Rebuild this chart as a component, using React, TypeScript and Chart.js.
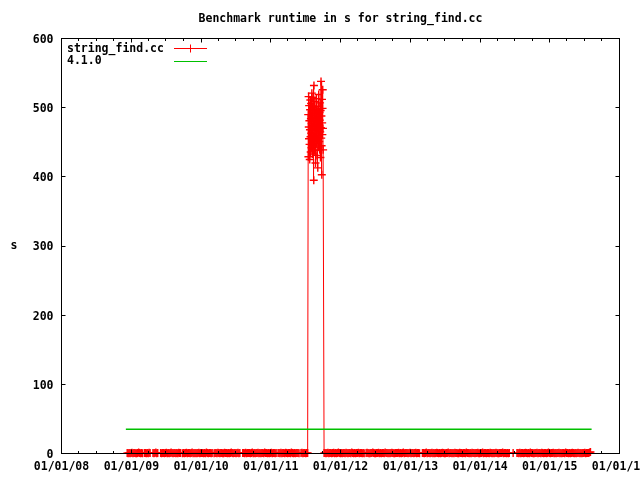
import React, { useEffect, useRef } from "react";
import { Chart, registerables } from "chart.js";

Chart.register(...registerables);

// ---------------- data ----------------
const TITLE = "Benchmark runtime in s for string_find.cc";
const Y_LABEL = "s";
const SERIES_NAMES = ["string_find.cc", "4.1.0"];

const X_MIN_DATE = "2008-01-01";
const X_MAX_DATE = "2016-01-01";
const X_TICK_YEARS = [2008, 2009, 2010, 2011, 2012, 2013, 2014, 2015, 2016];
const Y_MIN = 0;
const Y_MAX = 600;
const Y_STEP = 100;

// benchmark runs, first period (every 5 days, null = missed run)
const RUNS_A_START = "2008-12-10";
const RUNS_A_STEP_DAYS = 5;
const RUNS_A = [
  0.6, 0.5, 0.8, 0.4, 0.7, 1.2, 0.5, 0.6, 0.9, 0.4,
  0.5, 0.7, 1.4, 0.6, 0.5, 0.8, 0.4, null, 0.6, 0.9,
  0.5, 0.7, 0.4, 1.1, 0.6, null, null, 0.8, 0.5, 0.6,
  1.3, 0.4, 0.7, null, null, 0.6, 0.5, 0.9, 0.7, 0.4,
  0.6, 1.0, 0.5, 0.8, 0.4, 0.6, 1.5, 0.7, 0.5, 0.6,
  0.9, 0.4, 0.7, 0.5, 1.2, 0.6, 0.8, null, 0.5, 0.7,
  0.4, 0.6, 1.0, 0.5, 0.7, 0.9, 0.4, 0.6, 1.3, 0.5,
  0.7, 0.5, 0.8, 0.4, 0.6, 1.1, 0.5, 0.7, 0.6, 0.9,
  0.4, 0.6, 0.5, 1.4, 0.7, 0.5, 0.8, 0.6, 0.4, 0.7,
  null, 0.5, 0.9, 0.6, 0.4, 1.2, 0.7, 0.5, 0.6, 0.8,
  0.5, 0.4, 1.0, 0.7, 0.6, 0.5, 0.9, 0.4, 0.6, 1.3,
  0.7, 0.5, 0.6, 0.8, 0.4, 0.7, 1.1, 0.5, 0.6, null,
  null, 0.6, 0.8, 0.5, 1.2, 0.4, 0.7, 0.6, 0.9, 0.5,
  0.6, 1.4, 0.4, 0.7, 0.5, 0.8, 0.6, 1.0, 0.5, 0.7,
  0.4, 0.6, 0.9, 0.5, 1.3, 0.7, 0.6, 0.4, 0.8, 0.5,
  0.7, 1.1, 0.5, 0.6, 0.9, 0.4, 0.7, null, 0.6, 0.8,
  0.5, 1.2, 0.4, 0.7, 0.6, 0.5, 1.0, 0.8, 0.4, 0.6,
  0.7, 0.5, 1.5, 0.6, 0.4, 0.8, 0.5, 0.7, 0.9, 0.6,
  0.5, null, 0.7, 1.1, 0.4, 0.6, 0.8, 0.5, 0.6, 0.7,
];

// slow period (daily runs)
const SPIKE_START = "2011-07-16";
const SPIKE_STEP_DAYS = 1;
const SPIKE = [
  490, 429, 516, 472, 455, 503, 481, 447, 425, 468,
  497, 511, 458, 436, 484, 506, 463, 442, 477, 521,
  452, 489, 470, 433, 500, 515, 459, 481, 446, 395,
  532, 474, 453, 492, 438, 509, 467, 484, 420, 457,
  498, 473, 448, 513, 486, 462, 431, 495, 479, 454,
  413, 468, 502, 487, 443, 519, 460, 476, 451, 493,
  439, 482, 507, 465, 428, 496, 471, 538, 456, 488,
  445, 403, 512, 478, 461, 499, 526, 470, 439,
];

// benchmark runs, second period (every 5 days, null = missed run)
const RUNS_B_START = "2011-10-07";
const RUNS_B_STEP_DAYS = 5;
const RUNS_B = [
  0.6, 0.8, 0.5, 0.7, 1.2, 0.4, 0.6, 0.9, 0.5, 0.7,
  1.0, 0.5, 0.6, 0.4, 0.8, 1.3, 0.6, 0.5, 0.7, 0.4,
  0.6, 0.9, 0.5, 1.1, 0.7, 0.4, 0.6, 0.8, 0.5, 1.4,
  0.7, 0.5, 0.6, 0.4, 0.9, 0.6, 1.2, 0.5, 0.7, 0.6,
  0.4, 0.8, 0.5, null, 0.7, 1.0, 0.6, 0.4, 0.5, 0.9,
  0.6, 1.3, 0.7, 0.5, 0.4, 0.8, 0.6, 1.1, 0.5, 0.7,
  0.4, 0.6, 0.9, 0.5, 1.5, 0.7, 0.6, 0.4, 0.8, 0.5,
  0.7, 1.2, 0.6, 0.5, 0.4, 0.9, 0.7, 0.6, 1.0, 0.5,
  0.8, 0.4, 0.6, 1.3, 0.5, 0.7, 0.6, 0.9, 0.4, 0.6,
  1.1, 0.5, 0.7, 0.6, 0.4, 0.8, 1.2, 0.5, 0.6, 0.7,
  0.5, null, null, 0.6, 0.9, 0.4, 0.7, 1.4, 0.5, 0.6,
  0.8, 0.5, 0.7, 1.0, 0.4, 0.6, 0.5, 0.9, 1.2, 0.6,
  0.4, 0.7, 0.5, 0.6, 1.1, 0.8, 0.5, 0.4, 0.7, 0.6,
  1.3, 0.5, 0.6, 0.9, 0.4, 0.7, 0.5, 1.0, 0.6, 0.8,
  0.5, 0.4, 1.2, 0.6, 0.7, 0.5, 0.9, 0.6, 0.4, 1.5,
  0.7, 0.6, 0.5, 0.8, 0.4, 1.1, 0.6, 0.7, 0.5, 0.9,
  0.6, 1.0, 0.4, 0.5, 0.7, 0.6, 1.3, 0.5, 0.8, 0.6,
  0.4, 0.7, 0.9, 0.5, 1.2, 0.6, 0.4, 0.7, 0.5, 0.8,
  1.1, 0.6, 0.5, 0.4, 0.7, 0.9, 0.6, 1.4, 0.5, 0.6,
  0.7, 0.5, 0.8, 0.4, 0.6, null, null, null, 0.7, null,
  null, null, 0.6, 0.9, 0.5, 1.2, 0.4, 0.7, 0.6, 0.5,
  0.8, 1.0, 0.6, 0.4, 0.7, 0.5, 1.3, 0.6, 0.9, 0.5,
  0.4, 0.7, 0.6, 1.1, 0.5, 0.8, 0.6, 0.4, 1.2, 0.7,
  0.5, 0.6, 0.9, 0.4, 0.7, 1.5, 0.6, 0.5, 0.8, 0.6,
  1.0, 0.4, 0.7, 0.5, 0.6, 0.9, 1.2, 0.5, 0.7, 0.4,
  0.6, 0.8, 0.5, 1.3, 0.6, 0.7, 0.4, 0.9, 0.5, 0.6,
  1.1, 0.7, 0.5, 0.6, 0.4, 0.8, 1.0, 0.6, 0.5, 0.7,
  0.4, 0.9, 0.6, 1.2, 0.5, 0.7, 0.6, 0.8, 1.4, 2.1,
];

// reference release 4.1.0
const BASELINE_DATES = ["2008-12-03", "2015-08-08"];
const BASELINE_VALUES = [35, 35];

// ---------------- styling ----------------
const FONT_FAMILY = "'DejaVu Sans Mono', 'Liberation Mono', monospace";
const FONT_SIZE = 11.5;
const RED = "#ff0000";
const GREEN = "#00c000";
const DAY_MS = 86400000;

function runsToPoints(start: string, stepDays: number, values: (number | null)[]) {
  const t0 = Date.parse(start);
  return values.map((v, i) => ({ x: t0 + i * stepDays * DAY_MS, y: v }));
}

function fmtTick(v: number) {
  const d = new Date(v);
  const yy = String(d.getUTCFullYear() % 100).padStart(2, "0");
  const mm = String(d.getUTCMonth() + 1).padStart(2, "0");
  const dd = String(d.getUTCDate()).padStart(2, "0");
  return `${mm}/${dd}/${yy}`;
}

const gnuplotDecor = {
  id: "gnuplotDecor",
  afterDatasetsDraw(chart: any) {
    const { ctx, chartArea: a, scales } = chart;
    const xs = scales.x;
    const ys = scales.y;
    const L = Math.floor(a.left) + 0.5;
    const R = Math.floor(a.right) + 0.5;
    const T = Math.floor(a.top) + 0.5;
    const B = Math.floor(a.bottom) + 0.5;
    ctx.save();
    ctx.strokeStyle = "#000";
    ctx.lineWidth = 1;
    ctx.beginPath();
    for (let v = Y_MIN; v <= Y_MAX; v += Y_STEP) {
      const py = Math.floor(ys.getPixelForValue(v)) + 0.5;
      ctx.moveTo(L, py);
      ctx.lineTo(L + 4, py);
      ctx.moveTo(R, py);
      ctx.lineTo(R - 4, py);
    }
    for (let yr = X_TICK_YEARS[0]; yr <= X_TICK_YEARS[X_TICK_YEARS.length - 1]; yr++) {
      for (let q = 0; q < 4; q++) {
        const t = Date.UTC(yr, q * 3, 1);
        if (t > Date.parse(X_MAX_DATE)) break;
        const px = Math.floor(xs.getPixelForValue(t)) + 0.5;
        const len = q === 0 ? 4 : 2.5;
        ctx.moveTo(px, B);
        ctx.lineTo(px, B - len);
        ctx.moveTo(px, T);
        ctx.lineTo(px, T + len);
      }
    }
    ctx.stroke();
    ctx.strokeRect(L, T, R - L, B - T);
    ctx.restore();
  },
  afterDraw(chart: any) {
    const { ctx } = chart;
    ctx.save();
    ctx.font = `bold ${FONT_SIZE}px ${FONT_FAMILY}`;
    ctx.fillStyle = "#000";
    ctx.textBaseline = "middle";
    ctx.textAlign = "center";
    ctx.fillText(Y_LABEL, 14, 246);
    ctx.textAlign = "left";
    ctx.fillText(SERIES_NAMES[0], 67, 49);
    ctx.fillText(SERIES_NAMES[1], 67, 61.5);
    ctx.lineWidth = 1;
    ctx.strokeStyle = RED;
    ctx.beginPath();
    ctx.moveTo(174, 48.5);
    ctx.lineTo(207, 48.5);
    ctx.moveTo(190.5, 44.5);
    ctx.lineTo(190.5, 52.5);
    ctx.stroke();
    ctx.strokeStyle = GREEN;
    ctx.beginPath();
    ctx.moveTo(174, 61.5);
    ctx.lineTo(207, 61.5);
    ctx.stroke();
    ctx.restore();
  },
};

export default function App() {
  const ref = useRef<HTMLCanvasElement | null>(null);

  useEffect(() => {
    if (!ref.current) return;
    const redPoints = [
      ...runsToPoints(RUNS_A_START, RUNS_A_STEP_DAYS, RUNS_A),
      ...runsToPoints(SPIKE_START, SPIKE_STEP_DAYS, SPIKE),
      ...runsToPoints(RUNS_B_START, RUNS_B_STEP_DAYS, RUNS_B),
    ];
    const greenPoints = BASELINE_DATES.map((d, i) => ({ x: Date.parse(d), y: BASELINE_VALUES[i] }));
    const tickFont = { family: FONT_FAMILY, size: FONT_SIZE, weight: "bold" as const };

    const chart = new Chart(ref.current, {
      type: "line",
      data: {
        datasets: [
          {
            label: SERIES_NAMES[0],
            data: redPoints as any,
            borderColor: RED,
            borderWidth: 1,
            pointStyle: "cross",
            pointRadius: 4,
            pointHoverRadius: 4,
            pointBorderColor: RED,
            pointBorderWidth: 1.4,
            spanGaps: true,
            clip: false as any,
            tension: 0,
            order: 1,
          },
          {
            label: SERIES_NAMES[1],
            data: greenPoints as any,
            borderColor: GREEN,
            borderWidth: 1.5,
            pointRadius: 0,
            pointHoverRadius: 0,
            tension: 0,
            order: 0,
          },
        ],
      },
      options: {
        animation: false,
        responsive: false,
        devicePixelRatio: 1,
        events: [],
        layout: { padding: { left: 0, right: 20.5, top: 0, bottom: 0 } },
        plugins: {
          legend: { display: false },
          tooltip: { enabled: false },
          title: {
            display: true,
            text: TITLE,
            fullSize: false,
            color: "#000",
            font: { family: FONT_FAMILY, size: FONT_SIZE, weight: "bold", lineHeight: 1.2 },
            padding: { top: 12, bottom: 12.7 },
          },
        },
        scales: {
          x: {
            type: "linear",
            min: Date.parse(X_MIN_DATE),
            max: Date.parse(X_MAX_DATE),
            grid: { display: false, drawTicks: false },
            border: { display: false },
            afterBuildTicks: (scale: any) => {
              scale.ticks = X_TICK_YEARS.map((y) => ({ value: Date.UTC(y, 0, 1) }));
            },
            afterFit: (scale: any) => {
              scale.height = 26.5;
              scale.paddingLeft = 0;
              scale.paddingRight = 0;
            },
            ticks: {
              autoSkip: false,
              maxRotation: 0,
              minRotation: 0,
              padding: 7,
              color: "#000",
              font: tickFont,
              callback: (v: any) => fmtTick(Number(v)),
            },
          },
          y: {
            type: "linear",
            min: Y_MIN,
            max: Y_MAX,
            grid: { display: false, drawTicks: false },
            border: { display: false },
            afterFit: (scale: any) => {
              scale.width = 61.5;
            },
            ticks: {
              stepSize: Y_STEP,
              padding: 8,
              labelOffset: 1.5,
              color: "#000",
              font: tickFont,
            },
          },
        },
      },
      plugins: [gnuplotDecor],
    });
    return () => chart.destroy();
  }, []);

  return (
    <div style={{ position: "absolute", left: 0, top: 0, width: 640, height: 480, background: "#fff" }}>
      <canvas ref={ref} width={640} height={480} style={{ display: "block", width: 640, height: 480 }} />
    </div>
  );
}
